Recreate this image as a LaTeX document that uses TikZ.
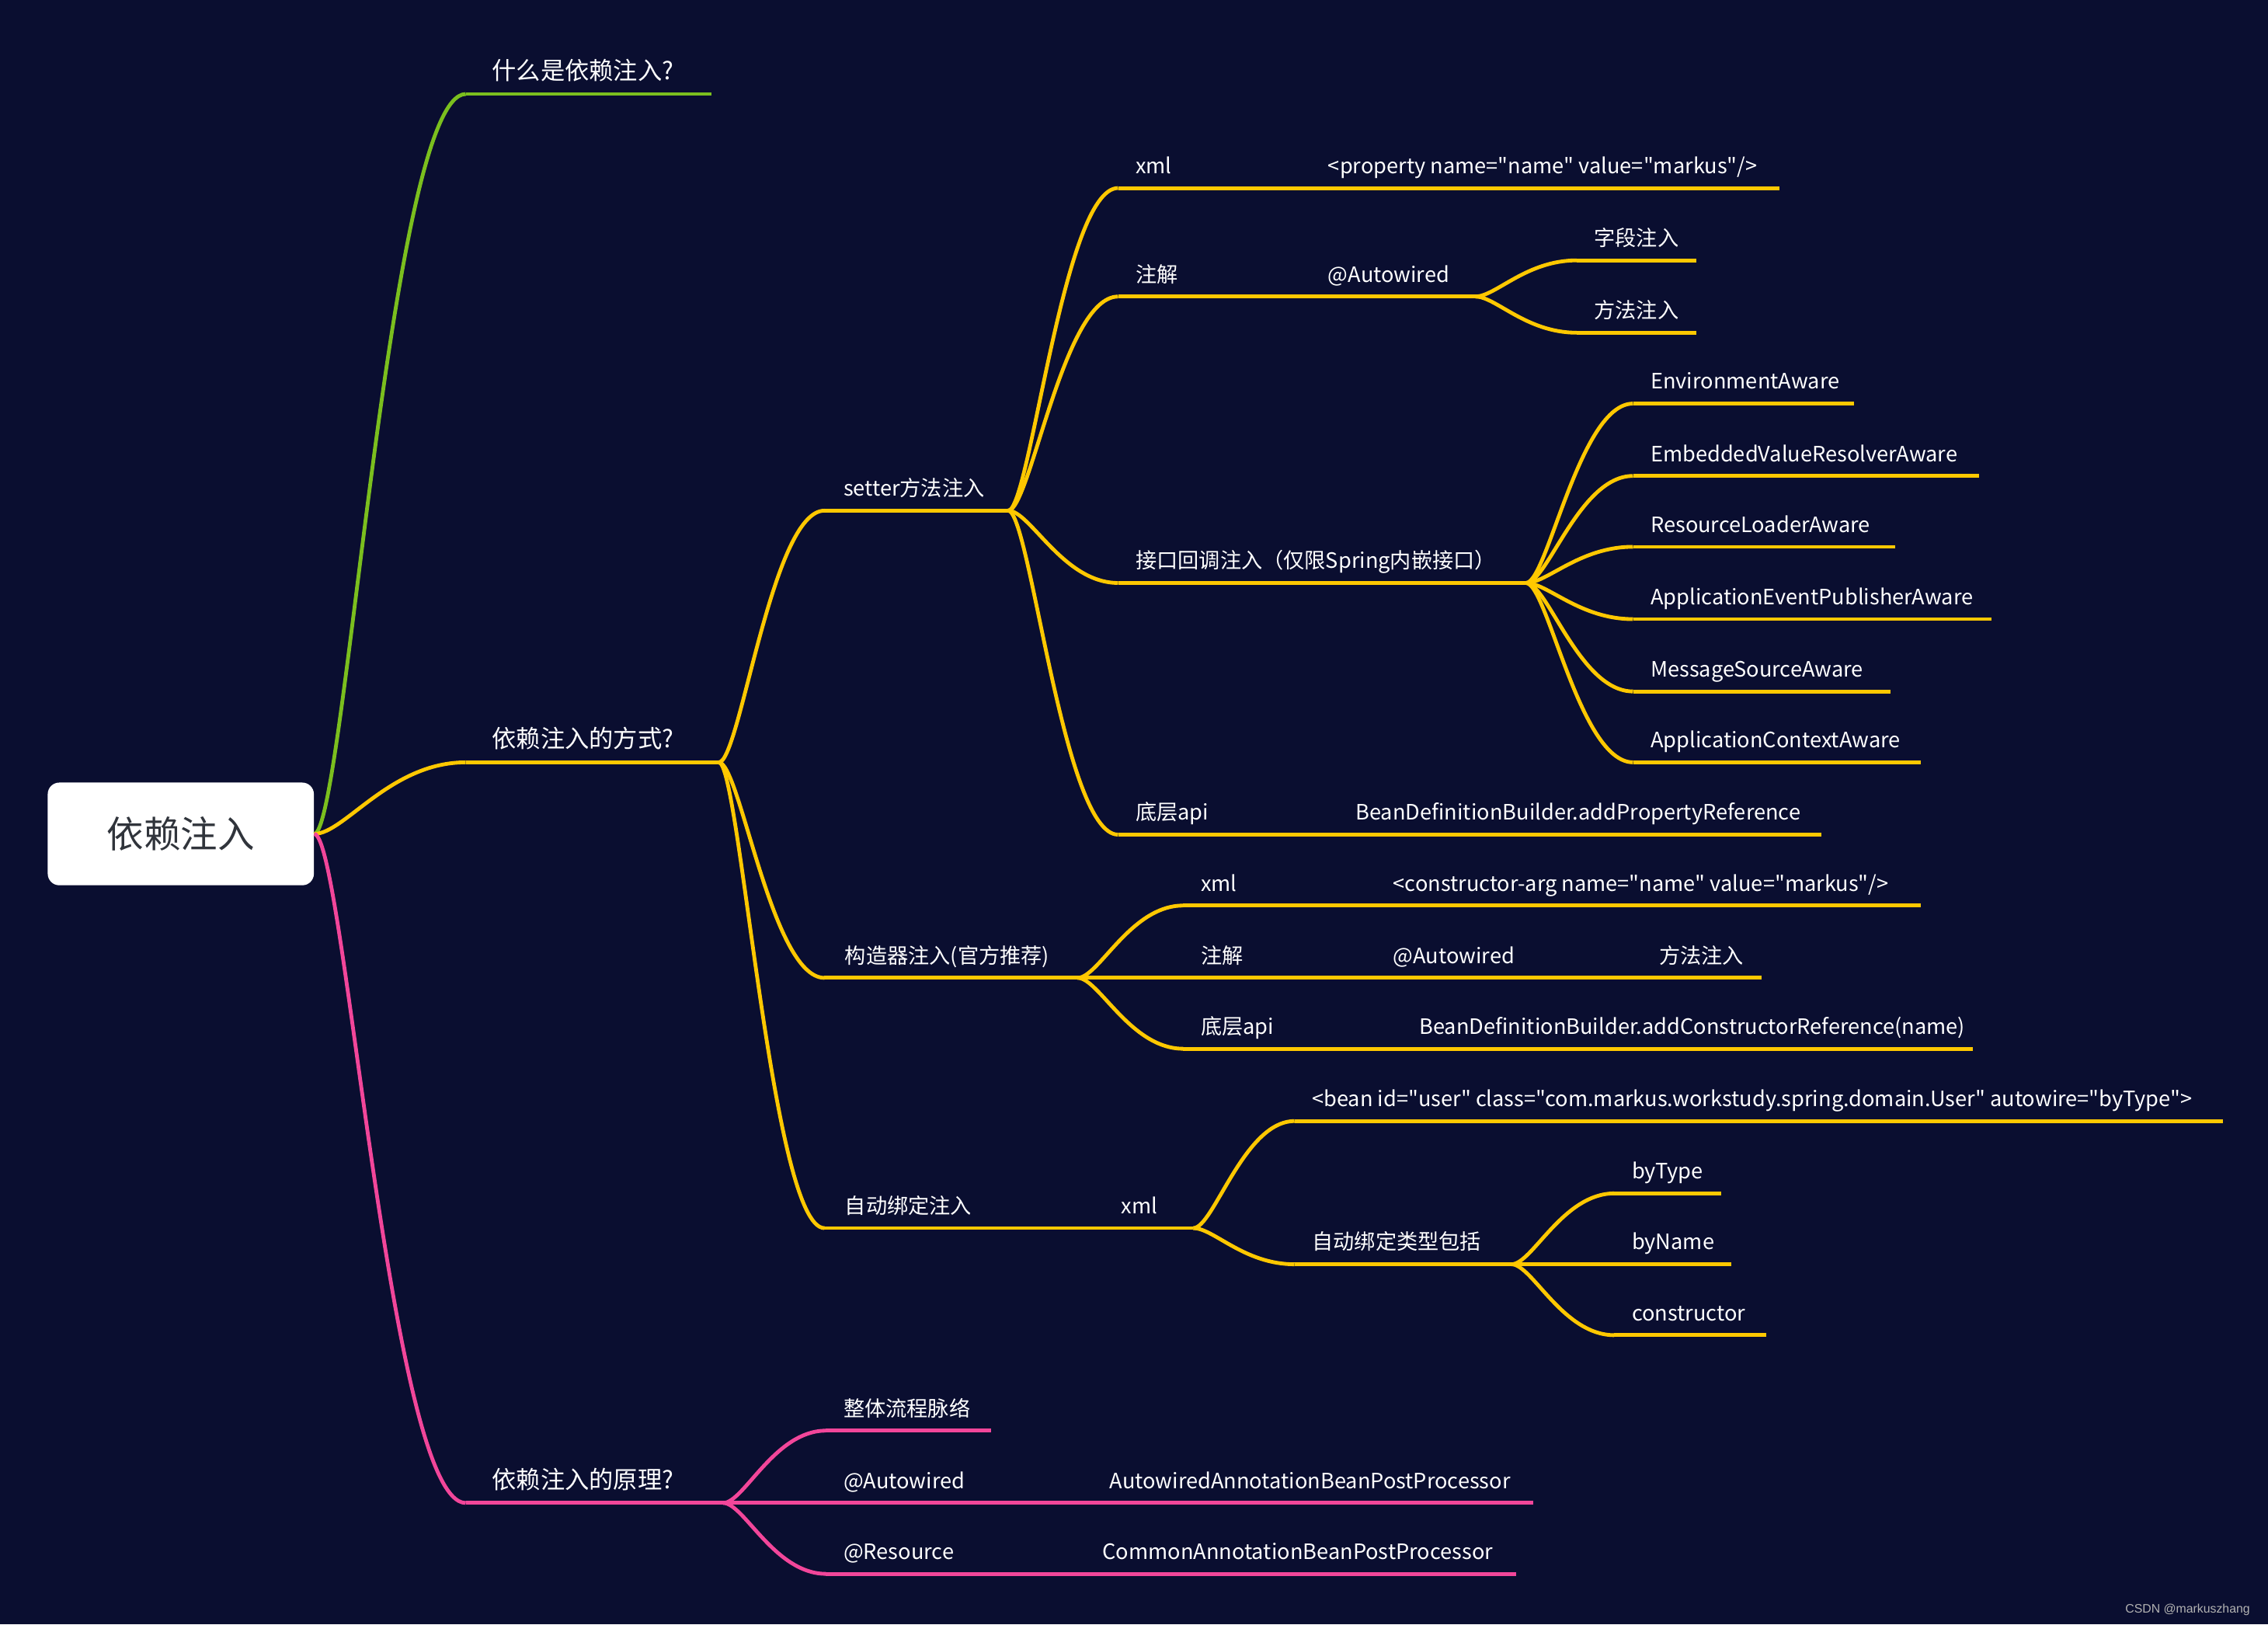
\documentclass[tikz,border=0pt]{standalone}
\usepackage{fontspec}
\newfontfamily\notofont{Noto Sans CJK SC}
\newfontfamily\markfont{Liberation Sans}
\usepackage{tikz}
\usetikzlibrary{calc}
\definecolor{cBg}{HTML}{0A0E30}
\definecolor{cY}{HTML}{FFC800}
\definecolor{cG}{HTML}{7BBF1E}
\definecolor{cP}{HTML}{F2469A}
\definecolor{cT}{HTML}{30343B}
\tikzset{
  lbl/.style={anchor=base west,inner sep=0pt,yshift=10pt,text=white,
              font=\notofont\fontsize{14.6}{17}\selectfont},
  main/.style={font=\notofont\fontsize{16.8}{19}\selectfont},
  ul/.style={line width=2.6pt},
  curvy/.style={line width=2.6pt,to path={let \p1=(\tikztostart),\p2=(\tikztotarget) in
      .. controls ({\x1+0.2*(\x2-\x1)},\y1) and ({\x1+0.5*(\x2-\x1)},\y2) .. (\tikztotarget)}},
  rootbox/.style={rounded corners=8pt,fill=white,text=cT,minimum width=184pt,
              minimum height=71pt,font=\notofont\fontsize{25.5}{28}\selectfont},
}
% topic: [node options] name, line from, line to, line y, text x, text
\newcommand{\topic}[7][]{%
  \coordinate (#2-s) at (#3,#5);
  \coordinate (#2-e) at (#4,#5);
  \draw[ul] (#2-s) -- (#2-e);
  \node[lbl,#1] (#2) at (#6,#5) {#7};}

\begin{document}
\begin{tikzpicture}[x=1pt,y=-1pt]
  \fill[cBg] (0,0) rectangle (1568,1123);
  \useasboundingbox (0,0) rectangle (1568,1123);
  \node[rootbox] (root) at (125,576.5) {依赖注入};
  % what
  \begin{scope}[cG]
    \topic[main]{what}{322}{492}{65}{340}{什么是依赖注入?}
    \draw[curvy] (root.east) to (what-s);
  \end{scope}
  % how
  \begin{scope}[cY]
    \topic[main]{how}{322}{497}{527}{340}{依赖注入的方式?}
    \draw[curvy] (root.east) to (how-s);
    \topic{setter}{570}{697}{353}{583}{setter方法注入}
    \topic{ctor}{570}{745}{676}{584}{构造器注入(官方推荐)}
    \topic{auto}{570}{684}{849}{584}{自动绑定注入}
    \foreach \t in {setter,ctor,auto}{\draw[curvy] (how-e) to (\t-s);}
    % setter
    \topic{sx}{773}{810}{130}{785}{xml}
    \topic{sxv}{906}{1230}{130}{918}{<property name="name" value="markus"/>}
    \topic{sa}{773}{815}{205}{785}{注解}
    \topic{saw}{906}{1020}{205}{918}{@Autowired}
    \topic{saf}{1090}{1173}{180}{1102}{字段注入}
    \topic{sam}{1090}{1173}{230}{1102}{方法注入}
    \topic{sif}{773}{1055}{403}{785}{接口回调注入（仅限Spring内嵌接口）}
    \topic{sb}{773}{840}{577}{785}{底层api}
    \topic{sbv}{925}{1259}{577}{937}{BeanDefinitionBuilder.addPropertyReference}
    \foreach \t in {sx,sa,sif,sb}{\draw[curvy] (setter-e) to (\t-s);}
    \draw[curvy] (sx-e) to (sxv-s);
    \draw[curvy] (sa-e) to (saw-s);
    \draw[curvy] (saw-e) to (saf-s);
    \draw[curvy] (saw-e) to (sam-s);
    \draw[curvy] (sb-e) to (sbv-s);
    \foreach \i/\y/\e/\t in {1/279/1282/EnvironmentAware,2/329/1368/EmbeddedValueResolverAware,
        3/378/1310/ResourceLoaderAware,4/428/1377/ApplicationEventPublisherAware,
        5/478/1307/MessageSourceAware,6/527/1328/ApplicationContextAware}{
      \topic{aw\i}{1129}{\e}{\y}{1141}{\t}
      \draw[curvy] (sif-e) to (aw\i-s);}
    % constructor
    \topic{cx}{818}{860}{626}{830}{xml}
    \topic{cxv}{951}{1328}{626}{963}{<constructor-arg name="name" value="markus"/>}
    \topic{ca}{818}{865}{676}{830}{注解}
    \topic{caw}{951}{1055}{676}{963}{@Autowired}
    \topic{cam}{1135}{1218}{676}{1147}{方法注入}
    \topic{cb}{818}{885}{725}{830}{底层api}
    \topic{cbv}{969}{1364}{725}{981}{BeanDefinitionBuilder.addConstructorReference(name)}
    \foreach \t in {cx,ca,cb}{\draw[curvy] (ctor-e) to (\t-s);}
    \draw[curvy] (cx-e) to (cxv-s);
    \draw[curvy] (ca-e) to (caw-s);
    \draw[curvy] (caw-e) to (cam-s);
    \draw[curvy] (cb-e) to (cbv-s);
    % autowire
    \topic{ax}{765}{825}{849}{775}{xml}
    \topic{axb}{895}{1537}{775}{907}{<bean id="user" class="com.markus.workstudy.spring.domain.User" autowire="byType">}
    \topic{axt}{895}{1045}{874}{907}{自动绑定类型包括}
    \topic{bt1}{1116}{1190}{825}{1128}{byType}
    \topic{bt2}{1116}{1197}{874}{1128}{byName}
    \topic{bt3}{1116}{1221}{923}{1128}{constructor}
    \draw[curvy] (auto-e) to (ax-s);
    \draw[curvy] (ax-e) to (axb-s);
    \draw[curvy] (ax-e) to (axt-s);
    \foreach \t in {bt1,bt2,bt3}{\draw[curvy] (axt-e) to (\t-s);}
  \end{scope}
  % why
  \begin{scope}[cP]
    \topic[main]{why}{322}{500}{1039}{340}{依赖注入的原理?}
    \draw[curvy] (root.east) to (why-s);
    \topic{flow}{571}{685}{989}{583}{整体流程脉络}
    \topic{paw}{571}{680}{1039}{583}{@Autowired}
    \topic{pawv}{755}{1060}{1039}{767}{AutowiredAnnotationBeanPostProcessor}
    \topic{pres}{571}{680}{1088}{583}{@Resource}
    \topic{presv}{750}{1048}{1088}{762}{CommonAnnotationBeanPostProcessor}
    \foreach \t in {flow,paw,pres}{\draw[curvy] (why-e) to (\t-s);}
    \draw[curvy] (paw-e) to (pawv-s);
    \draw[curvy] (pres-e) to (presv-s);
  \end{scope}
  \node[anchor=base east,text=gray!60,font=\markfont\fontsize{8.5}{9}\selectfont] (mark) at (1559,1115) {CSDN @markuszhang};
\end{tikzpicture}
\end{document}
